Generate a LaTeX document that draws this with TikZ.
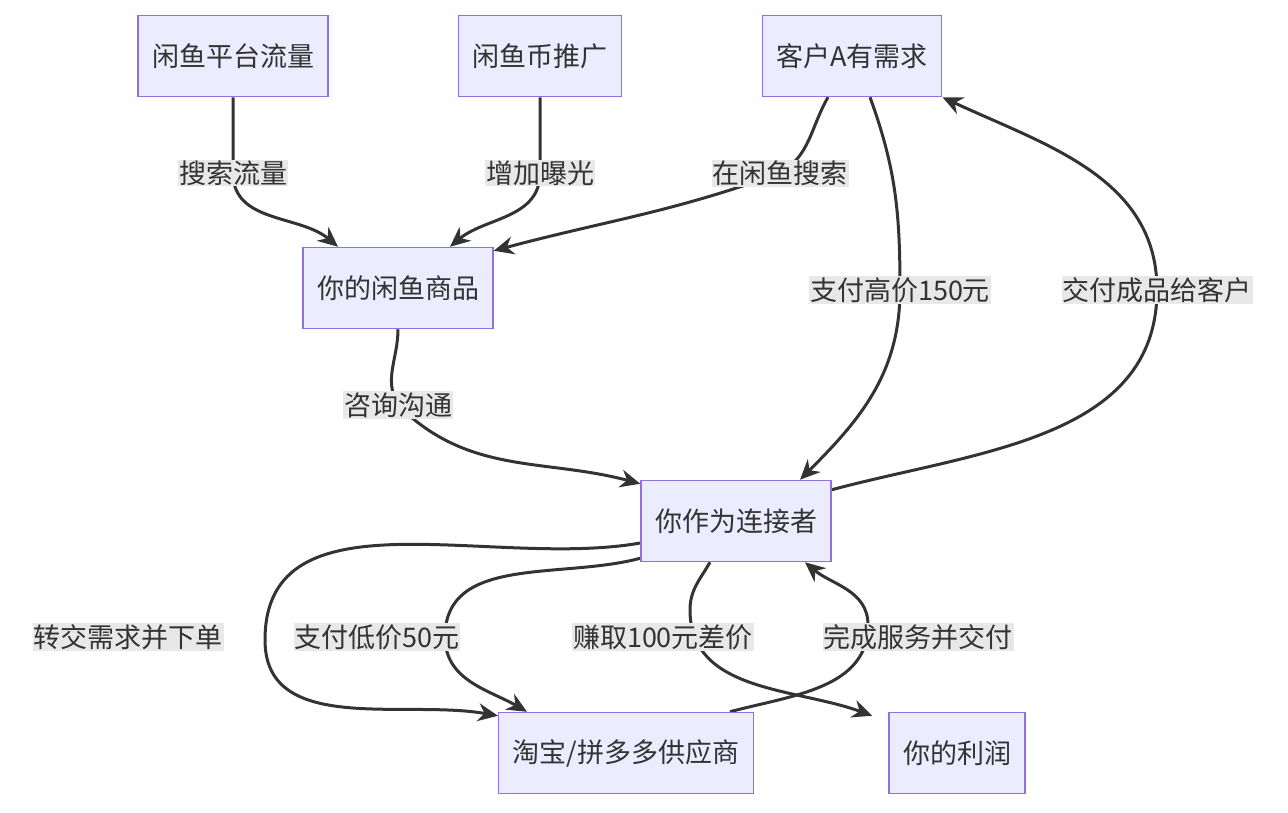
\documentclass[tikz,border=0pt]{standalone}
\usepackage{fontspec}
\setmainfont{Noto Sans CJK SC}
\usetikzlibrary{arrows.meta,positioning,backgrounds,calc}
\definecolor{boxFill}{HTML}{ECECFF}
\definecolor{boxLine}{HTML}{9370DB}
\definecolor{edgeColor}{HTML}{333333}
\definecolor{labFill}{HTML}{E8E8E8}
\tikzset{
	box/.style={draw=boxLine, fill=boxFill, line width=1.5pt, minimum height=81pt, inner xsep=14pt, text=edgeColor, font=\fontsize{27}{32}\selectfont},
	lab/.style={fill=labFill, inner sep=1pt, text=edgeColor, font=\fontsize{27}{32}\selectfont},
	flow/.style={draw=edgeColor, line width=3pt, -{Stealth[length=20pt,width=18pt]}}
}
\begin{document}
\begin{tikzpicture}[x=1pt,y=-1pt]
	\useasboundingbox (0,0) rectangle (1288,812);
	\node[box] (traffic) at (233,56) {闲鱼平台流量};
	\node[box] (coin) at (540,56) {闲鱼币推广};
	\node[box] (client) at (852,56) {客户A有需求};
	\node[box] (goods) at (398,288) {你的闲鱼商品};
	\node[box] (me) at (736,521) {你作为连接者};
	\node[box] (supplier) at (626,753) {淘宝/拼多多供应商};
	\node[box] (profit) at (957,753) {你的利润};
	% edge labels
	\node[lab] (l1) at (233,173) {搜索流量};
	\node[lab] (l2) at (540,173) {增加曝光};
	\node[lab] (l3) at (780,173) {在闲鱼搜索};
	\node[lab] (l4) at (900,290) {支付高价150元};
	\node[lab] (l5) at (1157,290) {交付成品给客户};
	\node[lab] (l6) at (398,405) {咨询沟通};
	\node[lab] (l7) at (128,637) {转交需求并下单};
	\node[lab] (l8) at (377,637) {支付低价50元};
	\node[lab] (l9) at (663,637) {赚取100元差价};
	\node[lab] (l10) at (918,637) {完成服务并交付};
	\begin{scope}[on background layer]
		\draw[flow] (traffic.south) to[out=-90,in=90] (l1.center) to[out=-90,in=140] ($(goods.north)+(-60,0)$);
		\draw[flow] (coin.south) to[out=-90,in=90] (l2.center) to[out=-90,in=40] ($(goods.north)+(52,0)$);
		\draw[flow] ($(client.south)+(-24,0)$) to[out=-120,in=30] (l3.center) to[out=-160,in=15] ($(goods.north east)+(0,4)$);
		\draw[flow] ($(client.south)+(18,0)$) to[out=-70,in=90] (l4.center) to[out=-90,in=45] ($(me.north)+(64,0)$);
		\draw[flow] ($(me.north east)+(0,10)$) to[out=15,in=-90] (l5.center) to[out=90,in=-25] (client.south east);
		\draw[flow] (goods.south) to[out=-90,in=120] (l6.center) to[out=-45,in=165] ($(me.north west)+(0,4)$);
		\draw[flow] ($(me.west)+(0,22)$) to[out=190,in=90] (265,640) to[out=-90,in=170] ($(supplier.north west)+(0,4)$);
		\draw[flow] ($(me.south west)+(0,-4)$) to[out=195,in=90] (445,637) to[out=-90,in=150] ($(supplier.north)+(-99,0)$);
		\draw[flow] ($(me.south)+(-26,0)$) to[out=-120,in=90] (690,610) to[out=-90,in=160] ($(profit.north west)+(-16,4)$);
		\draw[flow] ($(supplier.north)+(104,0)$) to[out=15,in=-90] (868,625) to[out=90,in=-40] ($(me.south)+(69,0)$);
	\end{scope}
\end{tikzpicture}
\end{document}
